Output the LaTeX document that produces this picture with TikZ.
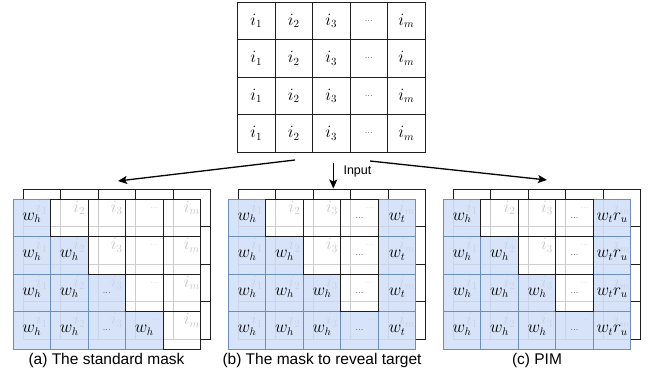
\documentclass[tikz,border=0pt]{standalone}
\usepackage{fontspec}
\setsansfont{Liberation Sans}
\usetikzlibrary{arrows.meta}
\definecolor{mblue}{RGB}{198,216,245}
\definecolor{mborder}{RGB}{108,142,191}
\definecolor{gline}{RGB}{30,30,30}

\newcommand\cw{37.5}
\newcommand\dts{{\fontsize{9}{10}\selectfont .\kern0pt.\kern0pt.}}

% back / input grid: #1 prefix, #2 x0, #3 y0
\newcommand\inputgrid[3]{%
  \foreach \r in {1,2,3,4}{%
    \foreach \l [count=\c] in {$i_1$,$i_2$,$i_3$,\dts,$i_m$}{%
      \node[gcell] (#1-\r-\c) at ({#2+(\c-0.5)*\cw},{#3+(\r-0.5)*\cw}) {\l};
    }%
  }%
}

% front mask grid: #1 prefix, #2 x0, #3 y0, #4 data macro
\newcommand\maskgrid[4]{%
  \fill[white, fill opacity=0.78] (#2,#3) rectangle ++(5*\cw,4*\cw);
  \foreach \r/\row in #4{%
    \foreach \t/\l [count=\c] in \row{%
      \node[firstpass\t] (#1-u-\r-\c) at ({#2+(\c-0.5)*\cw},{#3+(\r-0.5)*\cw}) {};
    }%
  }%
  \foreach \r/\row in #4{%
    \foreach \t/\l [count=\c] in \row{%
      \node[secondpass\t] (#1-\r-\c) at ({#2+(\c-0.5)*\cw},{#3+(\r-0.5)*\cw}) {\l};
    }%
  }%
}

\def\maskA{1/{b/$w_h$,w/{},w/{},w/{},w/{}},%
2/{b/$w_h$,b/$w_h$,w/{},w/{},w/{}},%
3/{b/$w_h$,b/$w_h$,b/\dts,w/{},w/{}},%
4/{b/$w_h$,b/$w_h$,b/\dts,b/$w_h$,w/{}}}

\def\maskB{1/{b/$w_h$,w/{},w/{},w/\dts,b/$w_t$},%
2/{b/$w_h$,b/$w_h$,w/{},w/\dts,b/$w_t$},%
3/{b/$w_h$,b/$w_h$,b/$w_h$,w/\dts,b/$w_t$},%
4/{b/$w_h$,b/$w_h$,b/$w_h$,b/\dts,b/$w_t$}}

\def\maskC{1/{b/$w_h$,w/{},w/{},w/\dts,b/$w_t r_u$},%
2/{b/$w_h$,b/$w_h$,w/{},w/\dts,b/$w_t r_u$},%
3/{b/$w_h$,b/$w_h$,b/$w_h$,w/\dts,b/$w_t r_u$},%
4/{b/$w_h$,b/$w_h$,b/$w_h$,b/\dts,b/$w_t r_u$}}

\begin{document}
\begin{tikzpicture}[x=1pt,y=-1pt,
  cellbase/.style={rectangle, minimum width=\cw pt, minimum height=\cw pt, inner sep=0pt,
    font=\fontsize{16}{18}\selectfont},
  gcell/.style={cellbase, draw=gline, line width=0.8pt},
  firstpassb/.style={cellbase, draw=mborder, fill=mblue, fill opacity=0.7, line width=0.8pt},
  firstpassw/.style={cellbase},
  secondpassb/.style={cellbase},
  secondpassw/.style={cellbase, draw=gline, line width=0.8pt},
  arr/.style={-{Stealth[length=9pt,width=8pt,inset=2pt]}, line width=1.3pt, black},
  caption/.style={font=\sffamily\fontsize{15.5}{18}\selectfont, anchor=center},
]
\useasboundingbox (0,0) rectangle (651,375);

% input grid
\inputgrid{top}{237.5}{2}

% back grids
\inputgrid{ab}{23}{189}
\inputgrid{bb}{238.3}{189}
\inputgrid{cb}{453.3}{189}

% front mask grids
\maskgrid{a}{13}{199}{\maskA}
\maskgrid{b}{228.3}{199}{\maskB}
\maskgrid{c}{443.3}{199}{\maskC}

% arrows
\coordinate (srcL) at (295,160);
\coordinate (dstL) at (118,181);
\coordinate (srcM) at (333.3,163);
\coordinate (dstM) at (333.3,188.5);
\coordinate (srcR) at (370,161);
\coordinate (dstR) at (547,180);
\draw[arr] (srcL) -- (dstL);
\draw[arr] (srcM) -- (dstM);
\draw[arr] (srcR) -- (dstR);
\node[font=\sffamily\fontsize{12.5}{15}\selectfont, anchor=west] (inlab) at (340,171) {Input};

% captions
\node[caption] (capa) at (106.5,360) {(a) The standard mask};
\node[caption] (capb) at (322,360) {(b) The mask to reveal target};
\node[caption] (capc) at (537,360) {(c) PIM};
\end{tikzpicture}
\end{document}
